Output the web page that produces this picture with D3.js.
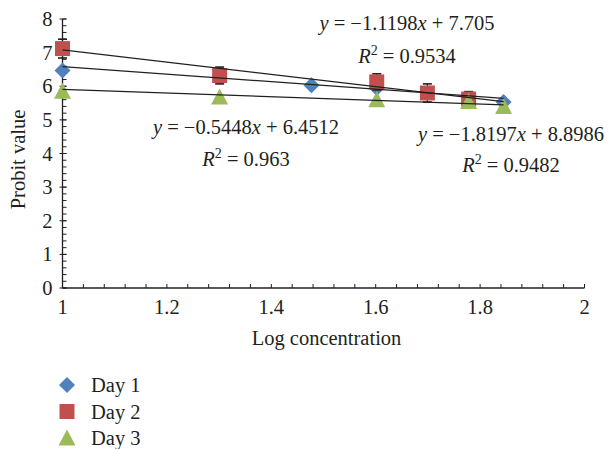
<!DOCTYPE html>
<html>
<head>
<meta charset="utf-8">
<script src="https://cdn.jsdelivr.net/npm/d3@7/dist/d3.min.js"></script>
<style>
  html, body { margin: 0; padding: 0; background: #fff; }
  svg { display: block; }
  text { font-family: "Liberation Serif", "DejaVu Serif", serif; fill: #231f20; }
</style>
</head>
<body>
<script>
// Probit value vs. log concentration, three exposure days
const day1X = [1, 1.477, 1.602, 1.845];
const day1Y = [6.47, 6.03, 5.95, 5.53];

const day2X = [1, 1.301, 1.602, 1.699, 1.778];
const day2Y = [7.12, 6.32, 6.13, 5.80, 5.62];
const day2Err = [0.28, 0.25, 0.24, 0.27, 0.22];

const day3X = [1, 1.301, 1.602, 1.778, 1.845];
const day3Y = [5.85, 5.68, 5.60, 5.55, 5.40];

// Linear trend lines: slope, intercept, R²
const trendDay1 = { slope: -1.1198, intercept: 7.705, r2: "0.9534", eq: ["\u22121.1198", "7.705"] };
const trendDay2 = { slope: -1.8197, intercept: 8.8986, r2: "0.9482", eq: ["\u22121.8197", "8.8986"] };
const trendDay3 = { slope: -0.5448, intercept: 6.4512, r2: "0.963", eq: ["\u22120.5448", "6.4512"] };
const trendRange = [1, 1.845];

const xTicks = [1, 1.2, 1.4, 1.6, 1.8, 2];
const yTicks = [0, 1, 2, 3, 4, 5, 6, 7, 8];
const seriesNames = ["Day 1", "Day 2", "Day 3"];
const colors = ["#4f81bd", "#c0504d", "#9bbb59"];

const W = 614, H = 449;
const FS = 20.5;
const svg = d3.select("body").append("svg").attr("width", W).attr("height", H);

const x = d3.scaleLinear().domain([1, 2]).range([62.5, 584.5]);
const y = d3.scaleLinear().domain([0, 8]).range([288, 19]);

// Axes
const axisColor = "#231f20";
const xMinor = d3.range(1, 2.0001, 0.04);
const yMinor = d3.range(0, 8.0001, 0.2);

const gx = svg.append("g").attr("transform", `translate(0,${y(0)})`);
gx.append("line").attr("x1", x(1)).attr("x2", x(2)).attr("stroke", axisColor).attr("stroke-width", 1.3);
gx.selectAll("line.minor").data(xMinor).join("line").attr("class", "minor")
  .attr("x1", d => x(d)).attr("x2", d => x(d)).attr("y1", 0).attr("y2", -4)
  .attr("stroke", axisColor).attr("stroke-width", 1);
gx.selectAll("text").data(xTicks).join("text")
  .attr("x", d => x(d)).attr("y", 26)
  .attr("text-anchor", "middle").attr("font-size", FS)
  .text(d => d3.format("")(d));

const gy = svg.append("g").attr("transform", `translate(${x(1)},0)`);
gy.append("line").attr("y1", y(0)).attr("y2", y(8)).attr("stroke", axisColor).attr("stroke-width", 1.3);
gy.selectAll("line.minor").data(yMinor).join("line").attr("class", "minor")
  .attr("y1", d => y(d)).attr("y2", d => y(d)).attr("x1", 0).attr("x2", 4)
  .attr("stroke", axisColor).attr("stroke-width", 1);
gy.selectAll("line.major").data(yTicks).join("line").attr("class", "major")
  .attr("y1", d => y(d)).attr("y2", d => y(d)).attr("x1", -3).attr("x2", 4)
  .attr("stroke", axisColor).attr("stroke-width", 1);
gy.selectAll("text").data(yTicks).join("text")
  .attr("x", -10).attr("y", d => y(d) + 7)
  .attr("text-anchor", "end").attr("font-size", FS)
  .text(d => d);

// Axis titles
svg.append("text").attr("x", (x(1) + x(2)) / 2 + 3).attr("y", 345)
  .attr("text-anchor", "middle").attr("font-size", FS).text("Log concentration");
svg.append("text").attr("transform", `translate(25,${(y(0) + y(8)) / 2 + 6}) rotate(-90)`)
  .attr("text-anchor", "middle").attr("font-size", FS).text("Probit value");

// Marker shapes
function diamondPath(r) { return `M0,${-r}L${r},0L0,${r}L${-r},0Z`; }
function squarePath(s) { return `M${-s},${-s}H${s}V${s}H${-s}Z`; }
function trianglePath(w, h) { return `M0,${-h / 2 - 1}L${w / 2},${h / 2}L${-w / 2},${h / 2}Z`; }
const shapes = [() => diamondPath(8), () => squarePath(7.5), () => trianglePath(17, 15)];

const plot = svg.append("g");

// Day 1 diamonds
plot.selectAll("path.d1").data(day1X.map((v, i) => [v, day1Y[i]])).join("path").attr("class", "d1")
  .attr("transform", d => `translate(${x(d[0])},${y(d[1])})`)
  .attr("d", shapes[0]()).attr("fill", colors[0]);

// Day 2 error bars then squares
const d2 = day2X.map((v, i) => ({ x: v, y: day2Y[i], e: day2Err[i] }));
const eb = plot.selectAll("g.eb").data(d2).join("g").attr("class", "eb");
eb.append("line").attr("x1", d => x(d.x)).attr("x2", d => x(d.x))
  .attr("y1", d => y(d.y + d.e)).attr("y2", d => y(d.y - d.e)).attr("stroke", "#231f20").attr("stroke-width", 1.2);
eb.append("line").attr("x1", d => x(d.x) - 4.5).attr("x2", d => x(d.x) + 4.5)
  .attr("y1", d => y(d.y + d.e)).attr("y2", d => y(d.y + d.e)).attr("stroke", "#231f20").attr("stroke-width", 1.6);
eb.append("line").attr("x1", d => x(d.x) - 4.5).attr("x2", d => x(d.x) + 4.5)
  .attr("y1", d => y(d.y - d.e)).attr("y2", d => y(d.y - d.e)).attr("stroke", "#231f20").attr("stroke-width", 1.6);
plot.selectAll("path.d2").data(d2).join("path").attr("class", "d2")
  .attr("transform", d => `translate(${x(d.x)},${y(d.y)})`)
  .attr("d", shapes[1]()).attr("fill", colors[1]);

// Day 3 triangles
plot.selectAll("path.d3").data(day3X.map((v, i) => [v, day3Y[i]])).join("path").attr("class", "d3")
  .attr("transform", d => `translate(${x(d[0])},${y(d[1])})`)
  .attr("d", shapes[2]()).attr("fill", colors[2]);

// Trend lines
[trendDay1, trendDay2, trendDay3].forEach(t => {
  plot.append("line")
    .attr("x1", x(trendRange[0])).attr("y1", y(t.slope * trendRange[0] + t.intercept))
    .attr("x2", x(trendRange[1])).attr("y2", y(t.slope * trendRange[1] + t.intercept))
    .attr("stroke", "#231f20").attr("stroke-width", 1.3);
});

// Equation labels
function equation(t, cx, yEq, yR) {
  const e = svg.append("text").attr("x", cx).attr("y", yEq).attr("text-anchor", "middle").attr("font-size", FS);
  e.append("tspan").attr("font-style", "italic").text("y");
  e.append("tspan").text(` = ${t.eq[0]}`);
  e.append("tspan").attr("font-style", "italic").text("x");
  e.append("tspan").text(` + ${t.eq[1]}`);
  const r = svg.append("text").attr("x", cx).attr("y", yR).attr("text-anchor", "middle").attr("font-size", FS);
  r.append("tspan").attr("font-style", "italic").text("R");
  r.append("tspan").attr("font-size", 14).attr("dy", -8).text("2");
  r.append("tspan").attr("dy", 8).text(` = ${t.r2}`);
}
equation(trendDay1, 407, 30, 63);
equation(trendDay3, 246, 134, 166);
equation(trendDay2, 511, 141, 172);

// Legend
const lg = svg.append("g");
seriesNames.forEach((name, i) => {
  const cy = 385 + i * 26.5;
  lg.append("path").attr("transform", `translate(67,${cy})`).attr("d", shapes[i]()).attr("fill", colors[i]);
  lg.append("text").attr("x", 91).attr("y", cy + 7).attr("font-size", FS).text(name);
});
</script>
</body>
</html>
